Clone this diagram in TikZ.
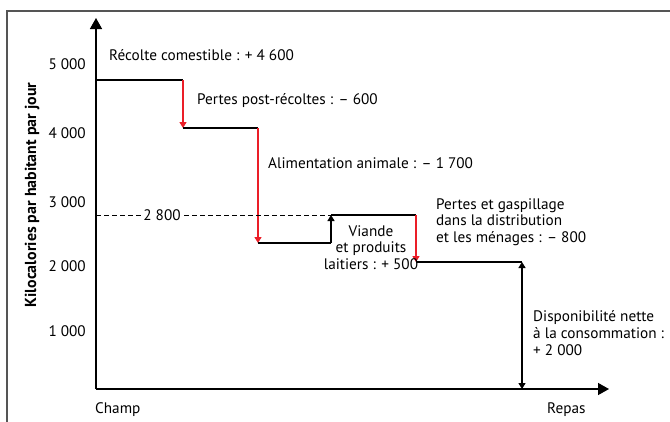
\documentclass[tikz,border=0pt]{standalone}
\usepackage{fontspec}
\setmainfont{PT Sans}
\usetikzlibrary{arrows.meta}
\definecolor{lossred}{RGB}{235,30,40}
\definecolor{framegray}{RGB}{85,85,85}
\begin{document}
\begin{tikzpicture}[x=1bp,y=-1bp,
  txt/.style={font=\fontsize{15.3}{17}\selectfont, inner sep=0pt},
  axis/.style={line width=1.4bp, -{Triangle[width=12bp,length=11bp]}},
  stepline/.style={line width=1.3bp},
  loss/.style={lossred, line width=1.3bp, -{Triangle[width=7bp,length=6bp]}},
  gain/.style={black, line width=1.3bp, -{Triangle[width=7bp,length=6bp]}},
  both/.style={black, line width=1.3bp, {Triangle[width=7bp,length=6bp]}-{Triangle[width=7bp,length=6bp]}},
  tick/.style={txt, anchor=east}]
\useasboundingbox (0,0) rectangle (670,421);
% frame
\draw[framegray, line width=1.5bp] (7,430) -- (7,11) -- (680,11);
% points
\coordinate (O) at (96,389);
\coordinate (ytop) at (96,18);
\coordinate (xend) at (609,389);
\coordinate (a0) at (96,80);
\coordinate (a1) at (183,80);
\coordinate (b0) at (183,128);
\coordinate (b1) at (258,128);
\coordinate (c0) at (258,243);
\coordinate (c1) at (331,243);
\coordinate (d0) at (331,215);
\coordinate (d1) at (416,215);
\coordinate (e0) at (416,262);
\coordinate (e1) at (522,262);
\coordinate (f0) at (522,389);
\coordinate (dash0) at (96,215);
% axes
\draw[axis] (O) -- (ytop);
\draw[axis] (O) -- (xend);
% steps
\draw[stepline] (a0) -- (a1);
\draw[loss] (a1) -- (b0);
\draw[stepline] (b0) -- (b1);
\draw[loss] (b1) -- (c0);
\draw[stepline] (c0) -- (c1);
\draw[gain] (c1) -- (d0);
\draw[stepline] (d0) -- (d1);
\draw[loss] (d1) -- (e0);
\draw[stepline] (e0) -- (e1);
\draw[both] (e1) -- (f0);
% dashed reference
\draw[dashed, dash pattern=on 5bp off 3bp, line width=1bp] (dash0) -- (d0);
\node[txt, fill=white, inner xsep=1.5bp, inner ysep=1bp] (v2800) at (162,215) {2 800};
% ticks
\node[tick] (t5) at (86,64) {5 000};
\node[tick] (t4) at (86,133) {4 000};
\node[tick] (t3) at (86,202) {3 000};
\node[tick] (t2) at (86,266) {2 000};
\node[tick] (t1) at (86,331) {1 000};
% y label
\node[font=\fontsize{16}{18}\bfseries\selectfont, inner sep=0pt, rotate=90] (ylab) at (32,195) {Kilocalories par habitant par jour};
% labels
\node[txt, anchor=base west] (l1) at (109,60) {Récolte comestible : + 4 600};
\node[txt, anchor=base west] (l2) at (197,104) {Pertes post-récoltes : – 600};
\node[txt, anchor=base west] (l3) at (268,168) {Alimentation animale : – 1 700};
\node[txt, align=center, anchor=north] (l4) at (371,225) {Viande\\et produits\\laitiers : + 500};
\node[txt, align=left, anchor=north west] (l5) at (436,198) {Pertes et gaspillage\\dans la distribution\\et les ménages : – 800};
\node[txt, align=left, anchor=north west] (l6) at (533,310) {Disponibilité nette\\à la consommation :\\+ 2 000};
\node[txt, anchor=west] (champ) at (95,410) {Champ};
\node[txt, anchor=west] (repas) at (547,410) {Repas};
\end{tikzpicture}
\end{document}
